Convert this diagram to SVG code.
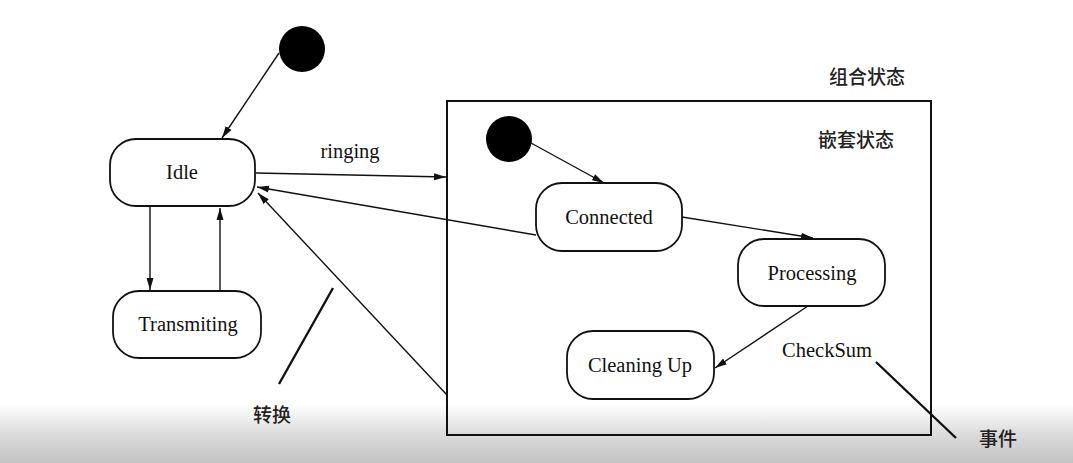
<svg xmlns="http://www.w3.org/2000/svg" width="1073" height="463" viewBox="0 0 1073 463">
<defs>
<marker id="arr" viewBox="0 0 12 8" refX="12" refY="4" markerWidth="12" markerHeight="8" markerUnits="userSpaceOnUse" orient="auto">
<path d="M0,0.5 L12,4 L0,7.5 Z" fill="#111"/>
</marker>
<linearGradient id="band" x1="0" y1="0" x2="0" y2="1">
<stop offset="0" stop-color="#ffffff"/>
<stop offset="0.5" stop-color="#dcdcdc"/>
<stop offset="1" stop-color="#c2c2c2"/>
</linearGradient>
</defs>
<style>
.st{fill:#fff;stroke:#111;stroke-width:1.8}
.init{fill:#000}
.lbl{font-family:"Liberation Serif","Times New Roman",serif;font-size:20.5px;fill:#111;text-anchor:middle}
.cn{font-family:"Noto Sans CJK SC","Noto Sans",sans-serif;font-size:19px;font-weight:500;fill:#222;text-anchor:middle}
.ln{fill:none;stroke:#111;stroke-width:1.4}
.ptr{fill:none;stroke:#111;stroke-width:2.4}
</style>
<rect width="1073" height="463" fill="#fff"/>
<rect x="0" y="405" width="1073" height="58" fill="url(#band)"/>
<g id="composite">
<rect x="447" y="101" width="484" height="334" fill="none" stroke="#111" stroke-width="2"/>
<text class="cn" x="867" y="84">组合状态</text>
<text class="cn" x="856" y="147">嵌套状态</text>
</g>
<g id="init1"><circle class="init" cx="302" cy="49" r="23"/></g>
<g id="init2"><circle class="init" cx="509" cy="139" r="23"/></g>
<g id="idle"><rect class="st" x="110" y="139" width="145" height="67" rx="26"/><text class="lbl" x="182" y="179">Idle</text></g>
<g id="transmiting"><rect class="st" x="113" y="291" width="148" height="67" rx="26"/><text class="lbl" x="188" y="331">Transmiting</text></g>
<g id="connected"><rect class="st" x="536" y="183" width="146" height="68" rx="26"/><text class="lbl" x="609" y="224">Connected</text></g>
<g id="processing"><rect class="st" x="738" y="239" width="147" height="67" rx="26"/><text class="lbl" x="812" y="280">Processing</text></g>
<g id="cleaning"><rect class="st" x="567" y="331" width="147" height="68" rx="26"/><text class="lbl" x="640" y="372">Cleaning Up</text></g>
<g id="connectors">
<line class="ln" x1="279" y1="53" x2="222" y2="138" marker-end="url(#arr)"/>
<line class="ln" x1="256" y1="173" x2="446" y2="177" marker-end="url(#arr)"/>
<line class="ln" x1="536" y1="235" x2="257" y2="187" marker-end="url(#arr)"/>
<line class="ln" x1="447" y1="395" x2="258" y2="193" marker-end="url(#arr)"/>
<line class="ln" x1="150" y1="207" x2="150" y2="290" marker-end="url(#arr)"/>
<line class="ln" x1="220" y1="290" x2="220" y2="208" marker-end="url(#arr)"/>
<line class="ln" x1="531" y1="143" x2="604" y2="183" marker-end="url(#arr)"/>
<line class="ln" x1="682" y1="217" x2="813" y2="238" marker-end="url(#arr)"/>
<line class="ln" x1="808" y1="306" x2="715" y2="368" marker-end="url(#arr)"/>
</g>
<text class="lbl" x="350" y="158">ringing</text>
<text class="lbl" x="827" y="357">CheckSum</text>
<line class="ptr" x1="333" y1="288" x2="279" y2="384"/>
<line class="ptr" x1="876" y1="362" x2="956" y2="438"/>
<text class="cn" x="272" y="422">转换</text>
<text class="cn" x="998" y="446">事件</text>
</svg>
